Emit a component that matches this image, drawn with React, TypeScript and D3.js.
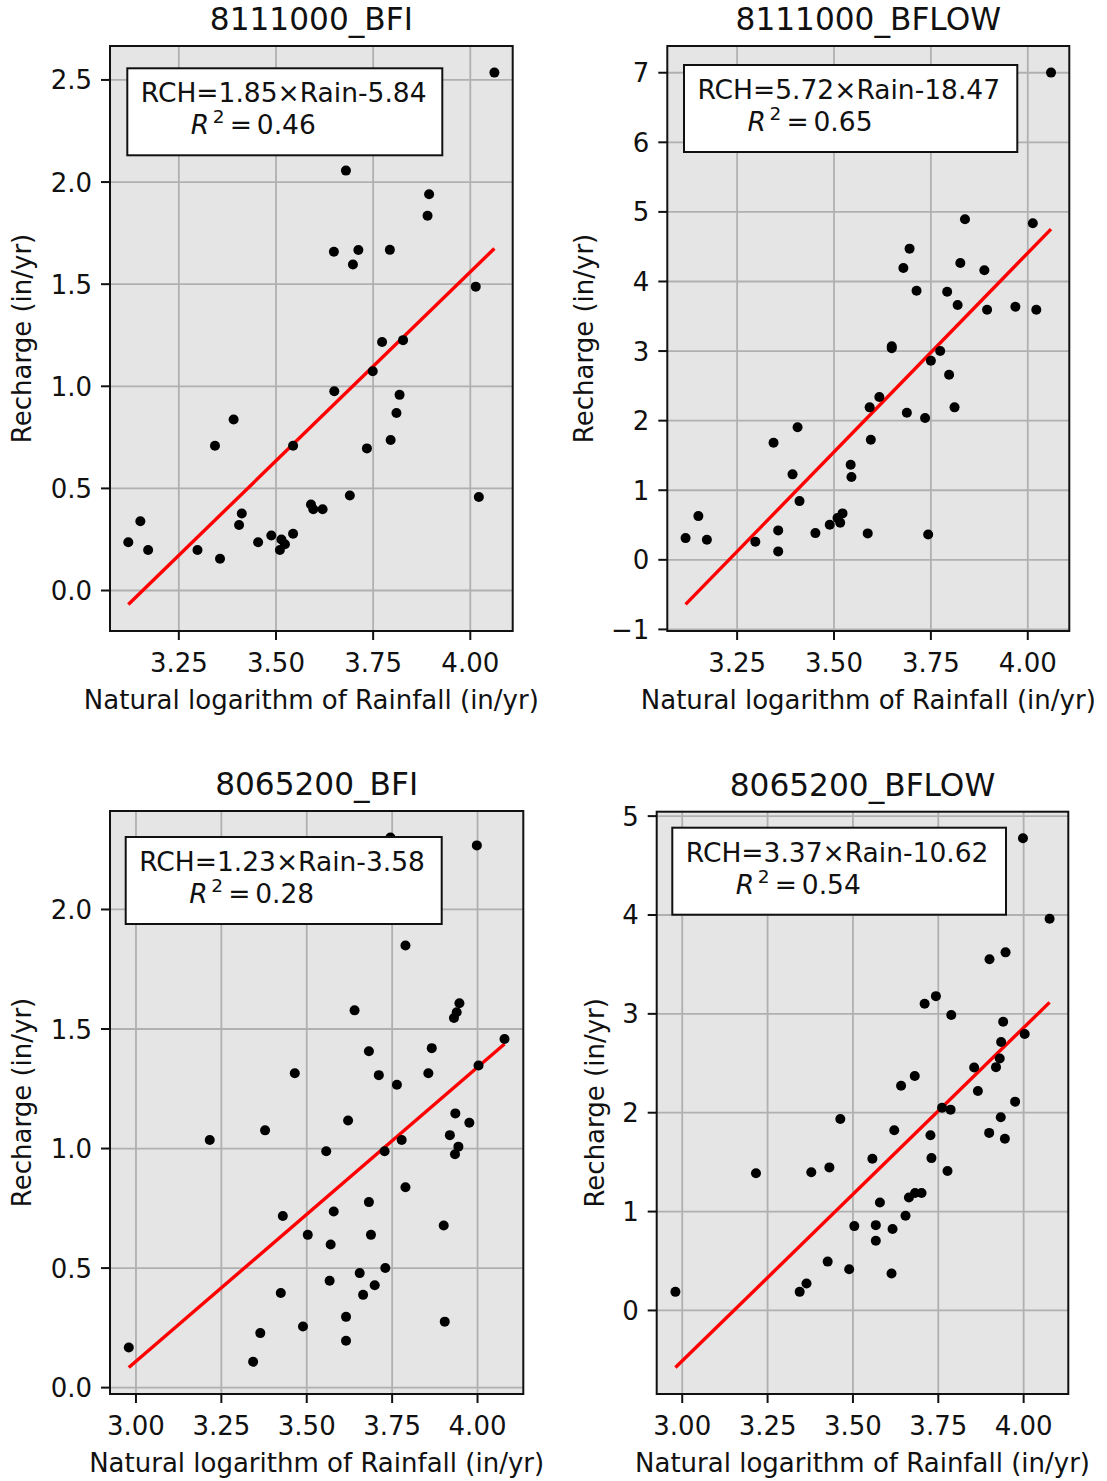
import React from "react";
import * as d3 from "d3";

// ---------- data ----------
const titles = ["8111000_BFI", "8111000_BFLOW", "8065200_BFI", "8065200_BFLOW"];
const slopes = [1.85, 5.72, 1.23, 3.37];
const intercepts = [-5.84, -18.47, -3.58, -10.62];
const r2Values = ["0.46", "0.65", "0.28", "0.54"];

const bfi8111X = [4.062, 3.68, 3.894, 3.89, 3.649, 3.712, 3.698, 3.793, 4.014, 3.773, 3.827, 3.749, 3.65, 3.818, 3.81, 3.391, 3.343, 3.544, 3.795, 3.734, 4.022, 3.69, 3.59, 3.596, 3.62, 3.412, 3.405, 3.151, 3.12, 3.171, 3.298, 3.356, 3.454, 3.488, 3.514, 3.523, 3.51, 3.544];
const bfi8111Y = [2.536, 2.056, 1.94, 1.835, 1.659, 1.667, 1.596, 1.668, 1.488, 1.217, 1.226, 1.074, 0.976, 0.958, 0.869, 0.837, 0.709, 0.709, 0.737, 0.696, 0.458, 0.465, 0.421, 0.398, 0.398, 0.377, 0.321, 0.339, 0.236, 0.198, 0.198, 0.156, 0.236, 0.269, 0.25, 0.227, 0.198, 0.278];

const bflow8111X = [4.06, 3.838, 4.013, 3.695, 3.679, 3.826, 3.888, 3.713, 3.792, 3.819, 3.895, 3.968, 4.022, 3.649, 3.649, 3.774, 3.75, 3.797, 3.617, 3.592, 3.811, 3.688, 3.735, 3.406, 3.344, 3.595, 3.393, 3.543, 3.545, 3.411, 3.15, 3.117, 3.172, 3.297, 3.356, 3.356, 3.452, 3.489, 3.509, 3.522, 3.516, 3.587, 3.743];
const bflow8111Y = [7.002, 4.894, 4.837, 4.472, 4.194, 4.266, 4.161, 3.868, 3.853, 3.662, 3.595, 3.638, 3.595, 3.068, 3.04, 3.0, 2.862, 2.66, 2.339, 2.191, 2.191, 2.114, 2.037, 1.904, 1.682, 1.725, 1.228, 1.366, 1.189, 0.844, 0.628, 0.312, 0.288, 0.259, 0.423, 0.121, 0.384, 0.503, 0.6, 0.667, 0.532, 0.38, 0.365];

const bfi8065X = [3.745, 3.998, 3.789, 3.64, 3.947, 3.939, 3.931, 4.079, 3.682, 3.866, 3.465, 3.711, 3.856, 3.764, 4.003, 3.935, 3.976, 3.621, 3.378, 3.216, 3.778, 3.919, 3.944, 3.934, 3.557, 3.728, 3.789, 3.682, 3.579, 3.43, 3.503, 3.688, 3.57, 3.901, 3.73, 3.655, 3.567, 3.699, 3.665, 3.424, 3.615, 3.489, 3.364, 3.615, 3.904, 2.979, 3.343];
const bfi8065Y = [2.301, 2.268, 1.849, 1.578, 1.608, 1.57, 1.546, 1.458, 1.407, 1.42, 1.315, 1.307, 1.315, 1.267, 1.347, 1.147, 1.108, 1.117, 1.076, 1.036, 1.036, 1.056, 1.008, 0.976, 0.989, 0.989, 0.838, 0.776, 0.737, 0.718, 0.639, 0.639, 0.599, 0.678, 0.5, 0.479, 0.447, 0.428, 0.388, 0.396, 0.296, 0.256, 0.228, 0.196, 0.276, 0.168, 0.108];

const bflow8065X = [3.998, 4.076, 3.947, 3.9, 3.743, 3.71, 3.788, 3.94, 4.003, 3.934, 3.93, 3.919, 3.855, 3.681, 3.641, 3.866, 3.975, 3.933, 3.463, 3.761, 3.786, 3.621, 3.899, 3.945, 3.727, 3.73, 3.557, 3.777, 3.431, 3.378, 3.216, 3.664, 3.682, 3.701, 3.579, 3.654, 3.504, 3.567, 3.616, 3.567, 3.426, 3.489, 3.613, 3.364, 3.344, 2.98];
const bflow8065Y = [4.777, 3.962, 3.622, 3.552, 3.179, 3.102, 2.988, 2.92, 2.797, 2.716, 2.548, 2.461, 2.457, 2.371, 2.273, 2.22, 2.112, 1.954, 1.937, 2.051, 2.031, 1.823, 1.796, 1.736, 1.772, 1.541, 1.534, 1.41, 1.447, 1.397, 1.387, 1.142, 1.188, 1.188, 1.091, 0.957, 0.853, 0.863, 0.823, 0.705, 0.494, 0.417, 0.373, 0.272, 0.188, 0.188];

const xTicksTop = [3.25, 3.5, 3.75, 4.0];
const xTicksBottom = [3.0, 3.25, 3.5, 3.75, 4.0];
const yTicksBfi8111 = [0, 0.5, 1.0, 1.5, 2.0, 2.5];
const yTicksBflow8111 = [-1, 0, 1, 2, 3, 4, 5, 6, 7];
const yTicksBfi8065 = [0, 0.5, 1.0, 1.5, 2.0];
const yTicksBflow8065 = [0, 1, 2, 3, 4, 5];

const xLabel = "Natural logarithm of Rainfall (in/yr)";
const yLabel = "Recharge (in/yr)";

// ---------- layout ----------
const FONT = "DejaVu Sans, Verdana, sans-serif";
const INK = "#111";
const panels = [
  { xs: bfi8111X, ys: bfi8111Y, xTicks: xTicksTop, yTicks: yTicksBfi8111, yFmt: ".1f",
    frame: { left: 110, top: 46, right: 512.7, bottom: 631 }, box: { dx: 17.3, dy: 22.3, w: 315 }, yLabelX: 31 },
  { xs: bflow8111X, ys: bflow8111Y, xTicks: xTicksTop, yTicks: yTicksBflow8111, yFmt: "d",
    frame: { left: 667.3, top: 46, right: 1069.3, bottom: 631 }, box: { dx: 16.7, dy: 19, w: 333.3 }, yLabelX: 593 },
  { xs: bfi8065X, ys: bfi8065Y, xTicks: xTicksBottom, yTicks: yTicksBfi8065, yFmt: ".1f",
    frame: { left: 110, top: 811, right: 523.3, bottom: 1394 }, box: { dx: 15.7, dy: 26, w: 316 }, yLabelX: 31 },
  { xs: bflow8065X, ys: bflow8065Y, xTicks: xTicksBottom, yTicks: yTicksBflow8065, yFmt: "d",
    frame: { left: 656.7, top: 811.7, right: 1068.3, bottom: 1394 }, box: { dx: 15.6, dy: 16, w: 333.7 }, yLabelX: 604 },
];

function padExtent([a, b]: [number, number]): [number, number] {
  const m = (b - a) * 0.05;
  return [a - m, b + m];
}

function Panel({ idx }: { idx: number }) {
  const p = panels[idx];
  const { frame } = p;
  const slope = slopes[idx];
  const icpt = intercepts[idx];
  const xExt = d3.extent(p.xs) as [number, number];
  const lineYs = xExt.map((x) => slope * x + icpt);
  const yExt = d3.extent([...p.ys, ...lineYs]) as [number, number];
  const x = d3.scaleLinear().domain(padExtent(xExt)).range([frame.left, frame.right]);
  const y = d3.scaleLinear().domain(padExtent(yExt)).range([frame.bottom, frame.top]);
  const line = d3.line<number>().x((d) => x(d)).y((d) => y(slope * d + icpt));
  const xFmt = d3.format(".2f");
  const yFmt = d3.format(p.yFmt);
  const cx = (frame.left + frame.right) / 2;
  const cy = (frame.top + frame.bottom) / 2;
  const bx = frame.left + p.box.dx;
  const by = frame.top + p.box.dy;
  const tx = bx + 13.5;
  const r2x = tx + 50;
  const eq = `RCH=${slope.toFixed(2)}×Rain${icpt.toFixed(2)}`;
  return (
    <g>
      <text x={cx} y={frame.top - 16} textAnchor="middle" fontSize={31.2} fill={INK}>{titles[idx]}</text>
      <rect x={frame.left} y={frame.top} width={frame.right - frame.left} height={frame.bottom - frame.top} fill="#e5e5e5" />
      {p.xTicks.map((t) => (
        <line key={"gx" + t} x1={x(t)} x2={x(t)} y1={frame.top} y2={frame.bottom} stroke="#b0b0b0" strokeWidth={1.8} />
      ))}
      {p.yTicks.map((t) => (
        <line key={"gy" + t} x1={frame.left} x2={frame.right} y1={y(t)} y2={y(t)} stroke="#b0b0b0" strokeWidth={1.8} />
      ))}
      <path d={line(xExt) || ""} stroke="#ff0000" strokeWidth={3.4} fill="none" />
      {p.xs.map((xv, i) => (
        <circle key={"pt" + i} cx={x(xv)} cy={y(p.ys[i])} r={5} fill="#000" />
      ))}
      <rect x={bx} y={by} width={p.box.w} height={87} fill="#fff" stroke={INK} strokeWidth={2} />
      <text x={tx} y={by + 34} fontSize={26.5} fill={INK}>{eq}</text>
      <text y={by + 66} fontSize={26.5} fill={INK}>
        <tspan x={r2x} fontStyle="italic">R</tspan>
        <tspan x={r2x + 22} dy={-11} fontSize={18.5}>2</tspan>
        <tspan x={r2x + 39} dy={11}>=</tspan>
        <tspan x={r2x + 66}>{r2Values[idx]}</tspan>
      </text>
      <rect x={frame.left} y={frame.top} width={frame.right - frame.left} height={frame.bottom - frame.top} fill="none" stroke={INK} strokeWidth={2} />
      {p.xTicks.map((t) => (
        <g key={"tx" + t}>
          <line x1={x(t)} x2={x(t)} y1={frame.bottom} y2={frame.bottom + 9} stroke={INK} strokeWidth={2} />
          <text x={x(t)} y={frame.bottom + 41} textAnchor="middle" fontSize={26} fill={INK}>{xFmt(t)}</text>
        </g>
      ))}
      {p.yTicks.map((t) => (
        <g key={"ty" + t}>
          <line x1={frame.left - 9} x2={frame.left} y1={y(t)} y2={y(t)} stroke={INK} strokeWidth={2} />
          <text x={frame.left - 18} y={y(t) + 9.5} textAnchor="end" fontSize={26} fill={INK}>{yFmt(t)}</text>
        </g>
      ))}
      <text x={cx} y={frame.bottom + 78} textAnchor="middle" fontSize={26} fill={INK}>{xLabel}</text>
      <text transform={`translate(${p.yLabelX},${cy}) rotate(-90)`} textAnchor="middle" fontSize={26} fill={INK}>{yLabel}</text>
    </g>
  );
}

export default function App() {
  return (
    <svg width={1107} height={1481} style={{ position: "absolute", left: 0, top: 0, background: "#fff" }} fontFamily={FONT}>
      <rect x={0} y={0} width={1107} height={1481} fill="#fff" />
      {panels.map((_, i) => (
        <Panel key={i} idx={i} />
      ))}
    </svg>
  );
}
